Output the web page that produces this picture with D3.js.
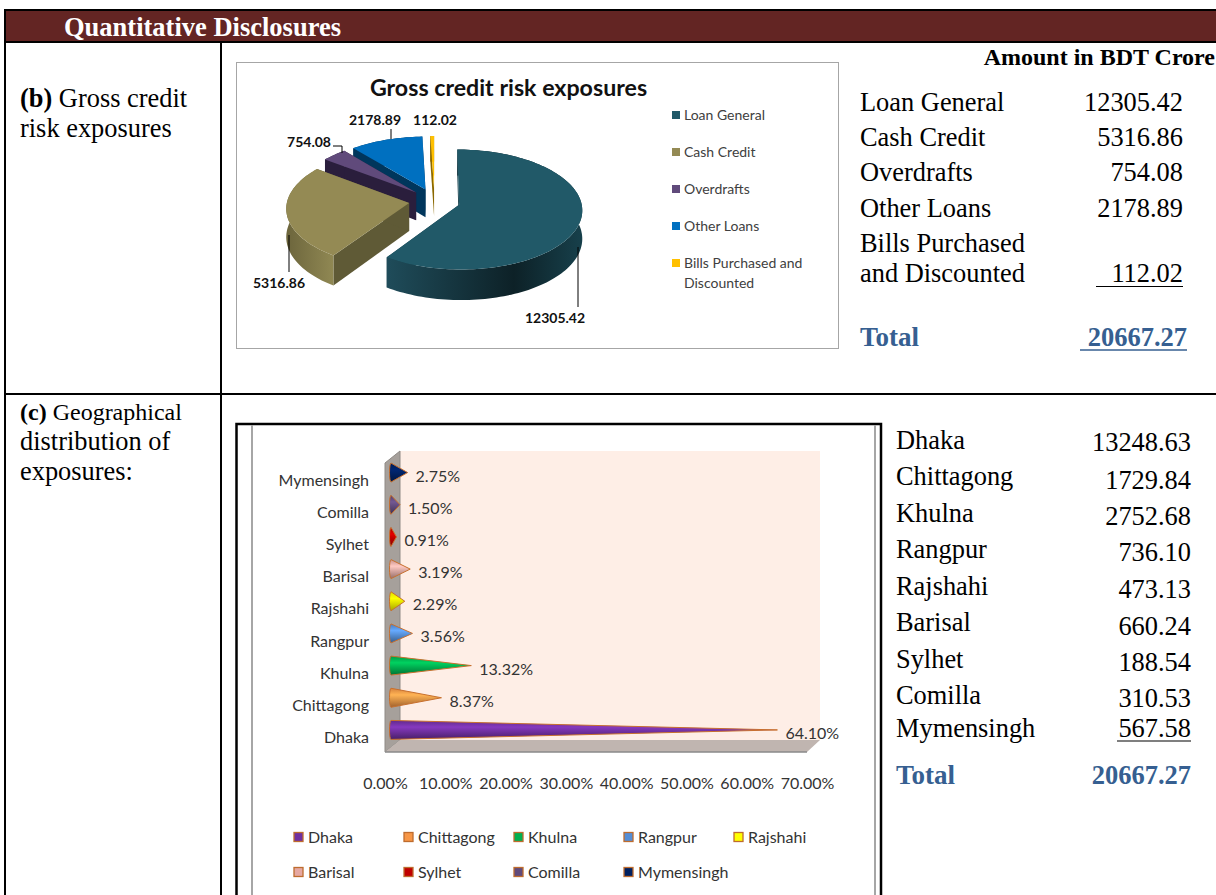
<!DOCTYPE html>
<html>
<head>
<meta charset="utf-8">
<script src="https://cdn.jsdelivr.net/npm/d3@7"></script>
<style>
  html, body { margin: 0; padding: 0; background: #fff; overflow: hidden; }
  svg { display: block; }
  .serif { font-family: "Liberation Serif", serif; fill: #000; }
  .sans { font-family: Lato, "Noto Sans", sans-serif; }
</style>
</head>
<body>
<div id="chart"></div>
<script>
// gross credit exposures
var creditNames = ["Loan General", "Cash Credit", "Overdrafts", "Other Loans", "Bills Purchased and Discounted"]
var creditValues = [12305.42, 5316.86, 754.08, 2178.89, 112.02]
var creditTotal = 20667.27

// geographical distribution
var regionNames = ["Dhaka", "Chittagong", "Khulna", "Rangpur", "Rajshahi", "Barisal", "Sylhet", "Comilla", "Mymensingh"]
var regionValues = [13248.63, 1729.84, 2752.68, 736.10, 473.13, 660.24, 188.54, 310.53, 567.58]
var regionShares = [64.10, 8.37, 13.32, 3.56, 2.29, 3.19, 0.91, 1.50, 2.75]
var regionTotal = 20667.27
var shareTicks = [0, 10, 20, 30, 40, 50, 60, 70]

var creditColors = ["#215968", "#948A54", "#604A7B", "#0070C0", "#FFC000"]
var creditSides = ["#163d48", "#5f5a36", "#2a1e3c", "#00365c", "#8a6800"]
var regionColors = ["#7030A0", "#F79646", "#00B050", "#558ED5", "#FFFF00", "#E6A8A2", "#C00000", "#604A7B", "#002060"]

var svg = d3.select("#chart").append("svg").attr("width", 1216).attr("height", 895)
var defs = svg.append("defs")
var fmt = d3.format(".2f")

function gradient(id, horizontal, stops) {
    var g = defs.append("linearGradient").attr("id", id)
        .attr("x1", 0).attr("y1", 0)
        .attr("x2", horizontal ? 1 : 0).attr("y2", horizontal ? 0 : 1)
    stops.forEach(function(s) {
        g.append("stop").attr("offset", s[0]).attr("stop-color", s[1])
    })
}

function serifText(x, y, str, opts) {
    opts = opts || {}
    return svg.append("text").attr("class", "serif")
        .attr("x", x).attr("y", y)
        .attr("text-anchor", opts.anchor || "start")
        .style("font-size", (opts.size || 26.4) + "px")
        .style("font-weight", opts.bold ? "bold" : "normal")
        .style("fill", opts.fill || "#000")
        .text(str)
}

// page table
svg.append("rect").attr("x", 5).attr("y", 10).attr("width", 1211).attr("height", 32).attr("fill", "#632523")
var rules = [[4, 10, 1216, 10], [4, 42, 1216, 42], [5, 10, 5, 895], [221, 42, 221, 895], [5, 394, 1216, 394]]
svg.selectAll("line.rule").data(rules).enter().append("line").attr("class", "rule")
    .attr("x1", function(d) { return d[0] }).attr("y1", function(d) { return d[1] })
    .attr("x2", function(d) { return d[2] }).attr("y2", function(d) { return d[3] })
    .attr("stroke", "#000").attr("stroke-width", 2)

serifText(64, 36, "Quantitative Disclosures", { bold: true, fill: "#fff", size: 26.5 })
serifText(1215, 65, "Amount in BDT Crore", { bold: true, anchor: "end", size: 24 })

var b = serifText(20, 107, "", {})
b.append("tspan").style("font-weight", "bold").text("(b)")
b.append("tspan").text(" Gross credit")
serifText(20, 137, "risk exposures")
var c = serifText(20, 420, "", { size: 24 })
c.append("tspan").style("font-weight", "bold").text("(c)")
c.append("tspan").text(" Geographical")
serifText(20, 450, "distribution of")
serifText(20, 480, "exposures:")

// --- pie chart ---
var pieFrame = svg.append("rect").attr("x", 236.5).attr("y", 62.5).attr("width", 602).attr("height", 286)
    .attr("fill", "#fff").attr("stroke", "#a6a6a6")

var pieG = svg.append("g").attr("class", "pie")
var pieCx = 434.5, pieCy = 201, pieR = 122, pieTilt = 59, pieDepth = 28, perspective = 0.08, explode = 0.21

function project(X, Y, drop) {
    var s = 1 / (1 - perspective * Y)
    return [pieCx + X * pieR * s, pieCy + (Y * pieTilt + (drop || 0)) * s]
}

var slices = d3.pie().sort(null).value(function(d) { return d })(creditValues)
slices.forEach(function(d) {
    d.mid = (d.startAngle + d.endAngle) / 2
    d.ox = Math.sin(d.mid) * explode
    d.oy = -Math.cos(d.mid) * explode
})

function rim(d, drop) {
    var n = Math.max(2, Math.ceil((d.endAngle - d.startAngle) / 0.03)), pts = []
    d3.range(n + 1).forEach(function(i) {
        var a = d.startAngle + (d.endAngle - d.startAngle) * i / n
        pts.push(project(d.ox + Math.sin(a), d.oy - Math.cos(a), drop))
    })
    return pts
}

var poly = d3.line()

gradient("wall0", true, [[0, "#1f4c5a"], [0.65, "#0d2127"], [1, "#17404b"]])
gradient("wall1", true, [[0, "#6c653c"], [1, "#908853"]])
d3.range(2, 5).forEach(function(i) {
    gradient("wall" + i, true, [[0, creditSides[i]], [1, creditSides[i]]])
})

var order = slices.slice().sort(function(a, b) { return a.oy - b.oy })
order.forEach(function(d) {
    var i = d.index
    var top = rim(d, 0), low = rim(d, pieDepth)
    var apex = project(d.ox, d.oy, 0), apexLow = project(d.ox, d.oy, pieDepth)
    var g = pieG.append("g")
    // the two cut faces
    g.append("path").attr("fill", creditSides[i])
        .attr("d", poly([apex, top[0], low[0], apexLow]) + "Z")
    g.append("path").attr("fill", creditSides[i])
        .attr("d", poly([apex, top[top.length - 1], low[low.length - 1], apexLow]) + "Z")
    // outer wall
    g.append("path").attr("fill", "url(#wall" + i + ")")
        .attr("d", poly(top.concat(low.slice().reverse())) + "Z")
    // top face
    g.append("path").attr("fill", creditColors[i])
        .attr("d", poly([apex].concat(top)) + "Z")
})

var pieLeaders = [
    [[578, 247], [578, 307]],
    [[289, 235], [289, 272]],
    [[333, 146], [342, 146], [342, 153]],
    [[391, 129], [391, 139]]
]
pieG.selectAll("path.leader").data(pieLeaders).enter().append("path").attr("class", "leader")
    .attr("fill", "none").attr("stroke", "#000").attr("stroke-width", 1)
    .attr("d", function(d) { return poly(d) })

var pieLabelPos = [[555, 323], [279, 288], [309, 147], [375, 125], [435, 125]]
pieG.selectAll("text.value").data(creditValues).enter().append("text").attr("class", "value sans")
    .attr("x", function(d, i) { return pieLabelPos[i][0] })
    .attr("y", function(d, i) { return pieLabelPos[i][1] })
    .attr("text-anchor", "middle")
    .style("font-size", "14px").style("font-weight", "bold").style("fill", "#111")
    .text(function(d) { return fmt(d) })

svg.append("text").attr("class", "sans").attr("x", 508.5).attr("y", 96).attr("text-anchor", "middle")
    .style("font-size", "23.2px").style("font-weight", "bold").style("fill", "#111")
    .text("Gross credit risk exposures")

var pieLegendY = d3.scalePoint().domain(creditNames).range([115, 263])
var pieLegend = svg.append("g").selectAll("g").data(creditNames).enter().append("g")
    .attr("transform", function(d) { return "translate(672," + pieLegendY(d) + ")" })
pieLegend.append("rect").attr("y", -4).attr("width", 8).attr("height", 8)
    .attr("fill", function(d, i) { return creditColors[i] })
pieLegend.append("text").attr("class", "sans").attr("x", 12).attr("y", 5)
    .style("font-size", "14px").style("fill", "#404040")
    .each(function(d) {
        var t = d3.select(this)
        if (d.indexOf("Bills") === 0) {
            t.append("tspan").attr("x", 12).text("Bills Purchased and")
            t.append("tspan").attr("x", 12).attr("dy", 20).text("Discounted")
        } else {
            t.text(d)
        }
    })

// credit amounts
var creditRowY = [111, 146, 181, 217, 282]
creditNames.forEach(function(name, i) {
    if (i === 4) {
        serifText(860, 252, "Bills Purchased")
        serifText(860, creditRowY[i], "and Discounted")
    } else {
        serifText(860, creditRowY[i], name)
    }
    serifText(1183, creditRowY[i], fmt(creditValues[i]), { anchor: "end" })
})
svg.append("line").attr("x1", 1096).attr("x2", 1183).attr("y1", 286.5).attr("y2", 286.5).attr("stroke", "#000").attr("stroke-width", 1.2)
serifText(860, 346, "Total", { bold: true, fill: "#365F91", size: 27 })
serifText(1187, 346, fmt(creditTotal), { bold: true, fill: "#365F91", anchor: "end", size: 26.5 })
svg.append("line").attr("x1", 1080).attr("x2", 1187).attr("y1", 350).attr("y2", 350).attr("stroke", "#365F91").attr("stroke-width", 1.5)

// --- cone chart ---
svg.append("path").attr("fill", "none").attr("stroke", "#000").attr("stroke-width", 2.5)
    .attr("d", "M236.5,895V424H881V895")
svg.append("path").attr("fill", "none").attr("stroke", "#a6a6a6").attr("stroke-width", 2)
    .attr("d", "M252,425V895M875,425V895")

var x = d3.scaleLinear().domain([0, 70]).range([385, 807])
var y = d3.scaleBand().domain(regionNames).range([746, 456.5]).padding(0)
var depthX = 6, wallX = 15, wallY = 12
var floorY = y.range()[0] + 6

var wall = svg.append("g")
wall.append("rect").attr("x", x(0) + wallX).attr("y", 451).attr("width", x(70) - x(0) - 2)
    .attr("height", floorY - wallY - 451).attr("fill", "#FEEEE6")
wall.append("path").attr("fill", "#A6A09B").attr("stroke", "#8f8a86")
    .attr("d", poly([[x(0), 463], [x(0) + wallX, 451], [x(0) + wallX, floorY - wallY], [x(0), floorY]]) + "Z")
wall.append("path").attr("fill", "#C0B5B0")
    .attr("d", poly([[x(0), floorY], [x(0) + wallX, floorY - wallY], [x(70) + 13, floorY - wallY], [x(70), floorY]]) + "Z")
wall.append("line").attr("x1", x(0)).attr("x2", x(70)).attr("y1", floorY).attr("y2", floorY)
    .attr("stroke", "#8a8a8a").attr("stroke-width", 1.5)

var coneH = 9.5
regionNames.forEach(function(name, i) {
    var col = d3.color(regionColors[i])
    gradient("cone" + i, false, [
        [0, col.darker(0.4).formatHex()],
        [0.35, col.brighter(0.5).formatHex()],
        [1, col.darker(1.2).formatHex()]
    ])
})

var cones = svg.append("g").selectAll("path").data(regionShares).enter().append("path")
    .attr("fill", function(d, i) { return "url(#cone" + i + ")" })
    .attr("stroke", "#C8702E").attr("stroke-width", 1)
    .attr("d", function(d, i) {
        var x0 = x(0) + depthX, cy = y(regionNames[i]) + y.bandwidth() / 2
        return "M" + x0 + "," + (cy - coneH)
            + "L" + (x(d) + depthX) + "," + cy
            + "L" + x0 + "," + (cy + coneH)
            + "A1.5," + coneH + " 0 0 1 " + x0 + "," + (cy - coneH) + "Z"
    })

svg.append("g").selectAll("text").data(regionShares).enter().append("text").attr("class", "sans")
    .attr("x", function(d) { return x(d) + depthX + 8 })
    .attr("y", function(d, i) { return y(regionNames[i]) + y.bandwidth() / 2 + 9 })
    .style("font-size", "16px").style("fill", "#333")
    .text(function(d) { return fmt(d) + "%" })

var yAxis = svg.append("g").attr("class", "sans").attr("transform", "translate(374,8)")
    .call(d3.axisLeft(y).tickSize(0).tickPadding(5))
yAxis.select(".domain").remove()
yAxis.selectAll("text").style("font-size", "16px").style("font-family", "Lato").style("fill", "#333")

var xAxis = svg.append("g").attr("transform", "translate(0,775)")
    .call(d3.axisBottom(x).tickValues(shareTicks).tickSize(0).tickPadding(3)
        .tickFormat(function(d) { return fmt(d) + "%" }))
xAxis.select(".domain").remove()
xAxis.selectAll("text").style("font-size", "16px").style("font-family", "Lato").style("fill", "#333")

var legendCol = d3.scalePoint().domain(d3.range(5)).range([294, 734])
var legendRow = d3.scalePoint().domain([0, 1]).range([837, 872])
var coneLegend = svg.append("g").selectAll("g").data(regionNames).enter().append("g")
    .attr("transform", function(d, i) {
        return "translate(" + legendCol(i % 5) + "," + legendRow(Math.floor(i / 5)) + ")"
    })
coneLegend.append("rect").attr("y", -4.5).attr("width", 9).attr("height", 9)
    .attr("fill", function(d, i) { return regionColors[i] })
    .attr("stroke", "#BE6C2E").attr("stroke-width", 1.3)
coneLegend.append("text").attr("class", "sans").attr("x", 14).attr("y", 6)
    .style("font-size", "16px").style("fill", "#333")
    .text(function(d) { return d })

// region amounts
var regionLabelY = [449, 485, 522, 558, 595, 631, 668, 704, 737]
var regionAmountY = [451, 489, 525, 561, 598, 635, 671, 707, 737]
regionNames.forEach(function(name, i) {
    serifText(896, regionLabelY[i], name)
    serifText(1191, regionAmountY[i], fmt(regionValues[i]), { anchor: "end" })
})
svg.append("line").attr("x1", 1117).attr("x2", 1191).attr("y1", 741).attr("y2", 741).attr("stroke", "#000").attr("stroke-width", 1.2)
serifText(896, 784, "Total", { bold: true, fill: "#365F91", size: 27 })
serifText(1191, 784, fmt(regionTotal), { bold: true, fill: "#365F91", anchor: "end", size: 26.5 })
</script>
</body>
</html>
